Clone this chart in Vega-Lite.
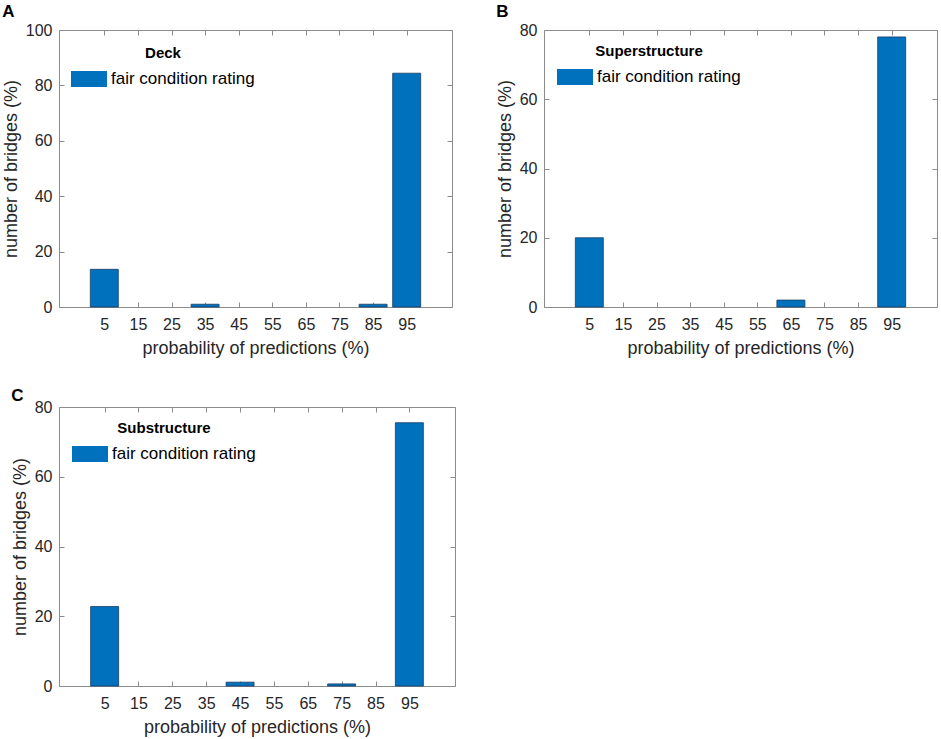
{
  "$schema": "https://vega.github.io/schema/vega-lite/v6.json",
  "padding": {"left": 1, "top": 2, "right": 2, "bottom": 4},
  "datasets": {
    "deck": [
      {"probability": 5, "bridges": 13.6, "rating": "fair condition rating"},
      {"probability": 35, "bridges": 1.0, "rating": "fair condition rating"},
      {"probability": 85, "bridges": 1.0, "rating": "fair condition rating"},
      {"probability": 95, "bridges": 84.4, "rating": "fair condition rating"}
    ],
    "superstructure": [
      {"probability": 5, "bridges": 20.0, "rating": "fair condition rating"},
      {"probability": 65, "bridges": 2.0, "rating": "fair condition rating"},
      {"probability": 95, "bridges": 78.0, "rating": "fair condition rating"}
    ],
    "substructure": [
      {"probability": 5, "bridges": 22.8, "rating": "fair condition rating"},
      {"probability": 45, "bridges": 1.1, "rating": "fair condition rating"},
      {"probability": 75, "bridges": 0.6, "rating": "fair condition rating"},
      {"probability": 95, "bridges": 75.5, "rating": "fair condition rating"}
    ]
  },
  "columns": 2,
  "bounds": "flush",
  "spacing": {"column": 89, "row": 100},
  "concat": [
    {
      "title": "A",
      "width": 393,
      "height": 277,
      "data": {"name": "deck"},
      "layer": [
        {
          "mark": {"type": "bar", "width": 28, "stroke": "#1c3d63", "strokeWidth": 0.8},
          "encoding": {
            "x": {"field": "probability", "type": "quantitative", "scale": {"domain": [-7, 107], "nice": false, "zero": false}, "axis": {"values": [5, 15, 25, 35, 45, 55, 65, 75, 85, 95], "title": "probability of predictions (%)"}},
            "y": {"field": "bridges", "type": "quantitative", "scale": {"domain": [0, 100], "nice": false}, "axis": {"values": [0, 20, 40, 60, 80, 100], "title": "number of bridges (%)"}},
            "color": {"field": "rating", "type": "nominal", "scale": {"range": ["#0072BD"]}, "legend": {"title": "Deck", "orient": "none", "legendX": 12, "legendY": 16}}
          }
        },
        {
          "mark": {"type": "bar", "width": 28, "opacity": 0},
          "encoding": {
            "x": {"field": "probability", "type": "quantitative", "axis": {"orient": "top", "values": [5, 15, 25, 35, 45, 55, 65, 75, 85, 95], "labels": false, "title": null}},
            "y": {"field": "bridges", "type": "quantitative", "axis": {"orient": "right", "values": [0, 20, 40, 60, 80, 100], "labels": false, "title": null}}
          }
        }
      ],
      "resolve": {"axis": {"x": "independent", "y": "independent"}}
    },
    {
      "title": "B",
      "width": 393,
      "height": 277,
      "data": {"name": "superstructure"},
      "layer": [
        {
          "mark": {"type": "bar", "width": 28, "stroke": "#1c3d63", "strokeWidth": 0.8},
          "encoding": {
            "x": {"field": "probability", "type": "quantitative", "scale": {"domain": [-7, 107], "nice": false, "zero": false}, "axis": {"values": [5, 15, 25, 35, 45, 55, 65, 75, 85, 95], "title": "probability of predictions (%)"}},
            "y": {"field": "bridges", "type": "quantitative", "scale": {"domain": [0, 80], "nice": false}, "axis": {"values": [0, 20, 40, 60, 80], "title": "number of bridges (%)"}},
            "color": {"field": "rating", "type": "nominal", "scale": {"range": ["#0072BD"]}, "legend": {"title": "Superstructure", "orient": "none", "legendX": 13, "legendY": 14}}
          }
        },
        {
          "mark": {"type": "bar", "width": 28, "opacity": 0},
          "encoding": {
            "x": {"field": "probability", "type": "quantitative", "axis": {"orient": "top", "values": [5, 15, 25, 35, 45, 55, 65, 75, 85, 95], "labels": false, "title": null}},
            "y": {"field": "bridges", "type": "quantitative", "axis": {"orient": "right", "values": [0, 20, 40, 60, 80], "labels": false, "title": null}}
          }
        }
      ],
      "resolve": {"axis": {"x": "independent", "y": "independent"}}
    },
    {
      "title": {"text": "C", "offset": -6},
      "width": 396,
      "height": 279,
      "data": {"name": "substructure"},
      "layer": [
        {
          "mark": {"type": "bar", "width": 28, "stroke": "#1c3d63", "strokeWidth": 0.8},
          "encoding": {
            "x": {"field": "probability", "type": "quantitative", "scale": {"domain": [-7, 107], "nice": false, "zero": false}, "axis": {"values": [5, 15, 25, 35, 45, 55, 65, 75, 85, 95], "title": "probability of predictions (%)"}},
            "y": {"field": "bridges", "type": "quantitative", "scale": {"domain": [0, 80], "nice": false}, "axis": {"values": [0, 20, 40, 60, 80], "title": "number of bridges (%)"}},
            "color": {"field": "rating", "type": "nominal", "scale": {"range": ["#0072BD"]}, "legend": {"title": "Substructure", "orient": "none", "legendX": 13, "legendY": 14}}
          }
        },
        {
          "mark": {"type": "bar", "width": 28, "opacity": 0},
          "encoding": {
            "x": {"field": "probability", "type": "quantitative", "axis": {"orient": "top", "values": [5, 15, 25, 35, 45, 55, 65, 75, 85, 95], "labels": false, "title": null}},
            "y": {"field": "bridges", "type": "quantitative", "axis": {"orient": "right", "values": [0, 20, 40, 60, 80], "labels": false, "title": null}}
          }
        }
      ],
      "resolve": {"axis": {"x": "independent", "y": "independent"}}
    }
  ],
  "resolve": {"scale": {"color": "independent"}, "legend": {"color": "independent"}},
  "config": {
    "font": "Liberation Sans",
    "view": {"stroke": "#8c8c8c", "strokeWidth": 1},
    "axis": {
      "grid": false,
      "domain": false,
      "tickColor": "#8c8c8c",
      "tickSize": -5,
      "labelColor": "#262626",
      "labelFontSize": 16,
      "labelPadding": 12,
      "titleColor": "#262626",
      "titleFontSize": 18,
      "titleFontWeight": "normal",
      "titlePadding": 5
    },
    "axisX": {"labelPadding": 14, "titlePadding": 7},
    "title": {"anchor": "start", "frame": "bounds", "fontSize": 17, "fontWeight": "bold", "color": "#000000", "offset": 1},
    "legend": {
      "titleFontSize": 15,
      "titleFontWeight": "bold",
      "titleColor": "#000000",
      "titleAnchor": "middle",
      "titlePadding": 0,
      "labelFontSize": 17,
      "labelColor": "#000000",
      "labelOffset": 4,
      "symbolType": "M-1,-0.44H1V0.44H-1Z",
      "symbolSize": 1296,
      "symbolStrokeWidth": 0
    }
  }
}
